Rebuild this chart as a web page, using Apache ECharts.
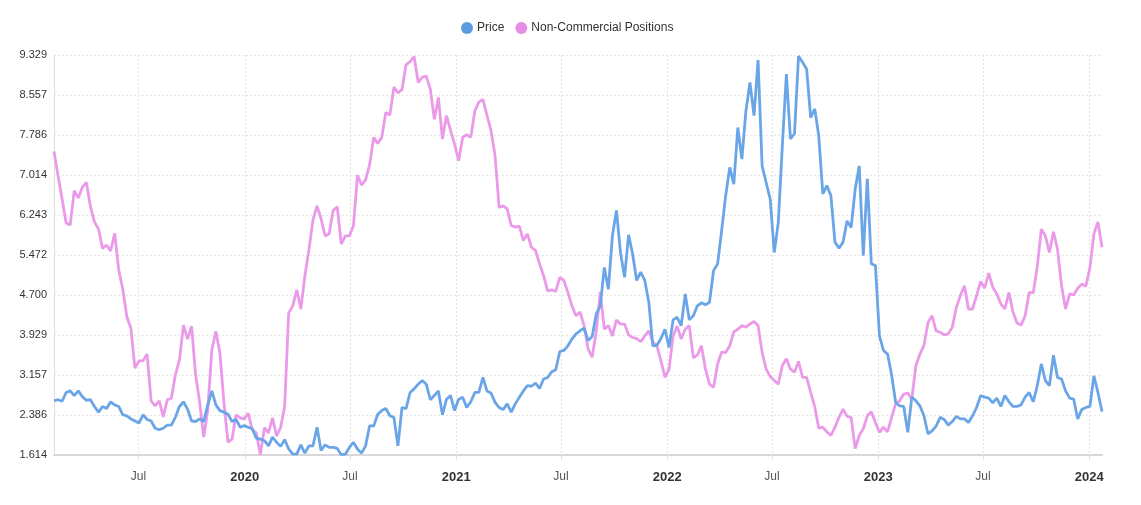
<!DOCTYPE html>
<html>
<head>
<meta charset="utf-8">
<script src="https://cdn.jsdelivr.net/npm/echarts@6/dist/echarts.min.js"></script>
<style>
html,body{margin:0;padding:0;background:#fff;}
#chart{width:1141px;height:505px;}
</style>
</head>
<body>
<div id="chart"></div>
<script>
// Weekly observations (Tuesdays) starting 2019-02-05, 260 weeks
const startDate = '2019-02-05';
const seriesNames = ['Price', 'Non-Commercial Positions'];

const price = [
2.66,2.68,2.65,2.82,2.85,2.76,2.85,2.74,2.67,2.68,
2.55,2.44,2.55,2.51,2.64,2.58,2.55,2.39,2.37,2.31,
2.27,2.23,2.39,2.30,2.27,2.13,2.10,2.13,2.19,2.19,
2.34,2.55,2.64,2.50,2.27,2.26,2.31,2.26,2.58,2.85,
2.58,2.47,2.44,2.40,2.26,2.30,2.15,2.18,2.15,2.12,
1.94,1.92,1.89,1.79,1.96,1.86,1.78,1.91,1.73,1.63,
1.63,1.81,1.65,1.79,1.79,2.15,1.70,1.81,1.76,1.76,
1.74,1.62,1.63,1.76,1.86,1.73,1.65,1.79,2.18,2.17,
2.40,2.47,2.51,2.37,2.34,1.79,2.53,2.51,2.82,2.89,
2.98,3.05,2.98,2.68,2.76,2.85,2.39,2.69,2.76,2.47,
2.69,2.73,2.53,2.64,2.82,2.82,3.11,2.85,2.81,2.63,
2.53,2.49,2.60,2.44,2.60,2.73,2.85,2.95,2.94,3.00,
2.90,3.08,3.11,3.22,3.26,3.61,3.63,3.72,3.85,3.95,
4.01,4.06,3.82,3.90,4.33,4.49,5.23,4.81,5.84,6.33,
5.52,5.04,5.86,5.49,4.98,5.14,4.98,4.56,3.72,3.73,
3.86,4.04,3.69,4.22,4.27,4.11,4.72,4.22,4.30,4.49,
4.55,4.51,4.56,5.17,5.30,5.94,6.62,7.16,6.84,7.93,
7.32,8.25,8.80,8.16,9.23,7.19,6.87,6.55,5.52,6.10,
7.58,8.96,7.71,7.81,9.31,9.19,9.06,8.12,8.29,7.77,
6.65,6.81,6.62,5.72,5.60,5.72,6.13,6.00,6.74,7.19,
5.46,6.94,5.30,5.27,3.91,3.63,3.56,3.16,2.63,2.56,
2.55,2.05,2.73,2.66,2.56,2.37,2.02,2.08,2.17,2.34,
2.30,2.19,2.26,2.36,2.31,2.31,2.24,2.37,2.53,2.76,
2.73,2.71,2.62,2.71,2.55,2.76,2.64,2.55,2.55,2.58,
2.73,2.82,2.64,2.95,3.37,3.05,2.95,3.54,3.11,3.08,
2.85,2.71,2.69,2.31,2.49,2.53,2.55,3.14,2.82,2.45
];

const nonCommercial = [
7.47,7.00,6.55,6.09,6.05,6.71,6.57,6.78,6.87,6.41,
6.11,5.97,5.60,5.66,5.55,5.89,5.18,4.81,4.28,4.06,
3.29,3.43,3.43,3.56,2.66,2.56,2.66,2.35,2.68,2.71,
3.16,3.45,4.12,3.85,4.10,3.16,2.63,1.96,2.48,3.64,
4.00,3.58,2.62,1.86,1.92,2.39,2.33,2.31,2.42,2.10,
2.04,1.62,2.14,2.04,2.33,1.98,2.14,2.55,4.35,4.49,
4.80,4.43,5.07,5.57,6.15,6.42,6.17,5.84,5.88,6.33,
6.40,5.68,5.84,5.84,6.03,7.01,6.82,6.92,7.21,7.74,
7.62,7.74,8.22,8.17,8.71,8.60,8.66,9.14,9.20,9.30,
8.80,8.90,8.92,8.67,8.09,8.51,7.71,8.16,7.87,7.61,
7.29,7.74,7.79,7.74,8.25,8.42,8.47,8.17,7.87,7.39,
6.39,6.42,6.36,6.04,6.01,6.03,5.75,5.88,5.62,5.56,
5.30,5.07,4.78,4.80,4.77,5.04,4.98,4.75,4.49,4.30,
4.37,4.11,3.66,3.50,3.99,4.76,4.04,4.11,3.91,4.22,
4.14,4.14,3.93,3.88,3.86,3.80,3.91,4.01,3.79,3.72,
3.43,3.11,3.27,3.91,4.10,3.85,4.04,4.11,3.49,3.54,
3.72,3.27,2.98,2.92,3.37,3.60,3.59,3.72,3.99,4.04,
4.11,4.08,4.14,4.19,4.11,3.59,3.27,3.13,3.05,2.98,
3.34,3.47,3.27,3.21,3.42,3.11,3.11,2.82,2.55,2.13,
2.15,2.06,1.99,2.15,2.34,2.50,2.36,2.34,1.74,1.99,
2.12,2.37,2.45,2.24,2.05,2.15,2.06,2.34,2.60,2.66,
2.79,2.81,2.69,3.34,3.56,3.73,4.17,4.30,4.01,3.98,
3.93,3.95,4.08,4.46,4.69,4.88,4.43,4.43,4.69,4.96,
4.83,5.12,4.85,4.72,4.53,4.43,4.75,4.37,4.16,4.12,
4.30,4.75,4.74,5.25,5.97,5.84,5.52,5.92,5.59,4.88,
4.43,4.72,4.70,4.83,4.91,4.87,5.22,5.88,6.11,5.62
];

const yTickLabels = ['1.614','2.386','3.157','3.929','4.700','5.472','6.243','7.014','7.786','8.557','9.329'];
const xTickDates = ['2019-07-01','2020-01-01','2020-07-01','2021-01-01','2021-07-01','2022-01-01','2022-07-01','2023-01-01','2023-07-01','2024-01-01'];

const DAY = 86400000;
function parseUTC(s){ const p = s.split('-').map(Number); return Date.UTC(p[0], p[1]-1, p[2]); }
const t0 = parseUTC(startDate);
const dates = price.map((_, i) => t0 + i * 7 * DAY);
const priceData = price.map((v, i) => [dates[i], v]);
const ncData = nonCommercial.map((v, i) => [dates[i], v]);
const yTicks = yTickLabels.map(Number);
const xTicks = xTickDates.map(parseUTC);

const FONT = '"Liberation Sans", Arial, Helvetica, sans-serif';
const chart = echarts.init(document.getElementById('chart'), null, {renderer: 'canvas'});
chart.setOption({
  animation: false,
  backgroundColor: '#ffffff',
  textStyle: {fontFamily: FONT},
  legend: {
    top: 17,
    left: 456,
    icon: 'circle',
    itemWidth: 12,
    itemHeight: 12,
    itemGap: 11,
    textStyle: {fontSize: 12, color: '#333333', fontFamily: FONT, padding: [0, 0, 0, -1]},
    data: seriesNames
  },
  grid: {left: 54, right: 39, top: 55, bottom: 50, containLabel: false},
  xAxis: {
    type: 'value',
    min: dates[0],
    max: dates[dates.length - 1],
    axisLine: {show: true, lineStyle: {color: '#d8d8d8', width: 2}},
    axisTick: {show: true, length: 5, lineStyle: {color: '#e0e0e0'}, customValues: xTicks},
    splitLine: {show: true, lineStyle: {color: '#e2e2e2', type: [2, 2], width: 1}},
    axisLabel: {
      customValues: xTicks,
      margin: 16,
      fontSize: 12,
      color: '#555555',
      fontFamily: FONT,
      formatter: function (v) {
        const d = new Date(v);
        if (d.getUTCMonth() === 0) return '{y|' + d.getUTCFullYear() + '}';
        return 'Jul';
      },
      rich: {y: {fontWeight: 'bold', fontSize: 13, color: '#333333', fontFamily: FONT}}
    }
  },
  yAxis: {
    type: 'value',
    min: yTicks[0],
    max: yTicks[yTicks.length - 1],
    axisLine: {show: true, lineStyle: {color: '#dddddd', width: 1}},
    axisTick: {show: false, customValues: yTicks},
    splitLine: {show: true, lineStyle: {color: '#e6e6e6', type: [2, 2], width: 1}},
    axisLabel: {
      customValues: yTicks,
      margin: 7,
      fontSize: 11,
      color: '#333333',
      fontFamily: FONT,
      formatter: function (v) { return Number(v).toFixed(3); }
    }
  },
  series: [
    {
      name: seriesNames[0],
      type: 'line',
      data: priceData,
      symbol: 'none',
      itemStyle: {color: '#5a9ae0'},
      lineStyle: {color: '#6aa6e7', width: 2.8},
      z: 3
    },
    {
      name: seriesNames[1],
      type: 'line',
      data: ncData,
      symbol: 'none',
      itemStyle: {color: '#e68de4'},
      lineStyle: {color: '#eb9ae9', width: 2.8},
      z: 2
    }
  ]
});
</script>
</body>
</html>
